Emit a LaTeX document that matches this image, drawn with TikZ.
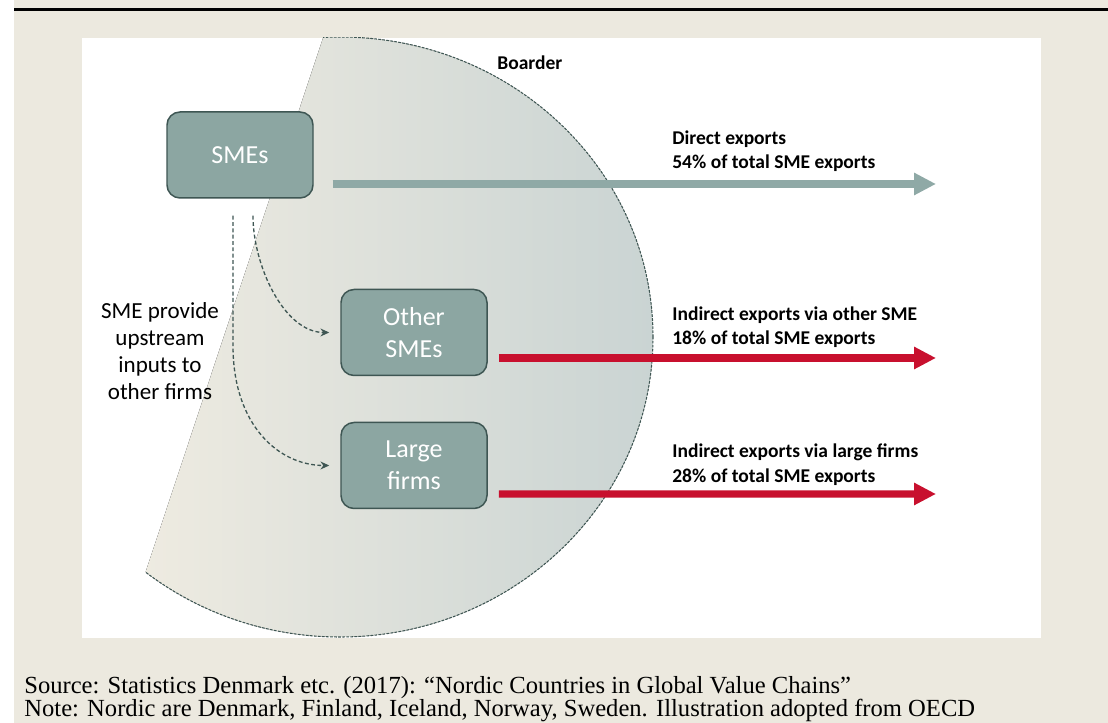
\documentclass[tikz,border=0pt]{standalone}
\usepackage[svgnames]{xcolor}
\usepackage{fontspec}
\setmainfont{Carlito}
\newfontfamily\notefont{Liberation Serif}
\usetikzlibrary{arrows.meta}

\definecolor{paper}{HTML}{ECE9DF}
\definecolor{firmfill}{HTML}{8CA6A2}
\definecolor{firmline}{HTML}{3E5653}
\definecolor{directcol}{HTML}{8FA9A6}
\definecolor{exportred}{HTML}{C8102E}
\definecolor{borderL}{HTML}{EEEBE1}
\definecolor{borderR}{HTML}{CAD4D3}

\tikzset{
  firm/.style={draw=firmline, line width=0.85pt, fill=firmfill, rounded corners=0.26cm,
    minimum width=2.92cm, minimum height=1.72cm, inner sep=0pt, align=center,
    text=white, font=\fontsize{14.8}{18.2}\selectfont},
  flow/.style={draw=firmline, line width=0.75pt, dash pattern=on 2.2pt off 1.4pt,
    -{Stealth[length=5pt,width=4.5pt]}},
  export/.style={line width=4pt, -{Triangle[length=12.5pt,width=12pt]}},
  lbl/.style={anchor=base west, align=left, inner sep=0pt, font=\bfseries\fontsize{11.1}{14.2}\selectfont},
}

\begin{document}
\begin{tikzpicture}
    \useasboundingbox (0,0) rectangle (22.16,14.46);
    \fill[white] (0,0) rectangle (22.16,14.46);
    \fill[paper] (0.28,0) rectangle (22.16,14.46);
    \fill[black] (0.28,14.24) rectangle (22.16,14.30);
    \fill[white] (1.64,1.70) rectangle (20.82,13.70);
    % the border
    \begin{scope}
        \clip (1.64,1.70) rectangle (20.82,13.70);
        \clip (7.176,15.856) -- (1.806,-0.314) -- (14,-0.314) -- (14,15.856) -- cycle;
        \begin{scope}
            \clip (6.8,7.72) ellipse (6.26 and 6.0);
            \fill[left color=borderL, right color=borderR] (2.88,1.70) rectangle (13.06,13.70);
        \end{scope}
        \draw[firmline, line width=0.6pt, dash pattern=on 1.5pt off 0.8pt] (6.8,7.72) ellipse (6.26 and 6.0);
    \end{scope}
    \node[lbl] (boarder) at (9.94,13.07) {Boarder};

    \node[firm] (smes) at (4.80,11.36) {SMEs};
    \node[firm] (others) at (8.28,7.81) {Other\\SMEs};
    \node[firm] (large) at (8.28,5.15) {Large\\firms};

    \coordinate (directEnd) at (18.72,10.78);
    \coordinate (othersEnd) at (18.72,7.30);
    \coordinate (largeEnd) at (18.72,4.58);
    \draw[export, directcol] ([xshift=0.38cm,yshift=-0.58cm]smes.east) -- (directEnd);
    \draw[export, exportred] ([xshift=0.22cm,yshift=-0.51cm]others.east) -- (othersEnd);
    \draw[export, exportred] ([xshift=0.22cm,yshift=-0.57cm]large.east) -- (largeEnd);

    \draw[flow] ([xshift=0.26cm,yshift=-0.34cm]smes.south) .. controls +(0,-1.0) and +(-0.9,0) .. ([xshift=-0.22cm]others.west);
    \draw[flow] ([xshift=-0.14cm,yshift=-0.34cm]smes.south) -- ++(0,-2.6) .. controls +(0,-1.6) and +(-1.0,0) .. ([xshift=-0.22cm]large.west);

    \node[lbl] (direct) at (13.44,11.08) {Direct exports\\54\% of total SME exports};
    \node[lbl] (viaothers) at (13.44,7.56) {Indirect exports via other SME\\18\% of total SME exports};
    \node[lbl] (vialarge) at (13.44,4.81) {Indirect exports via large firms\\28\% of total SME exports};
    \node[anchor=base, align=center, inner sep=0pt, font=\fontsize{13.1}{15.4}\selectfont] (upstream) at (3.20,6.46)
        {SME provide\\upstream\\inputs to\\other firms};

    \node[anchor=base west, align=left, inner sep=0pt, font=\notefont\fontsize{14}{13.2}\selectfont] (source) at (0.48,0.12)
        {Source: Statistics Denmark etc. (2017): “Nordic Countries in Global Value Chains”\\
         Note: Nordic are Denmark, Finland, Iceland, Norway, Sweden. Illustration adopted from OECD};
\end{tikzpicture}
\end{document}
